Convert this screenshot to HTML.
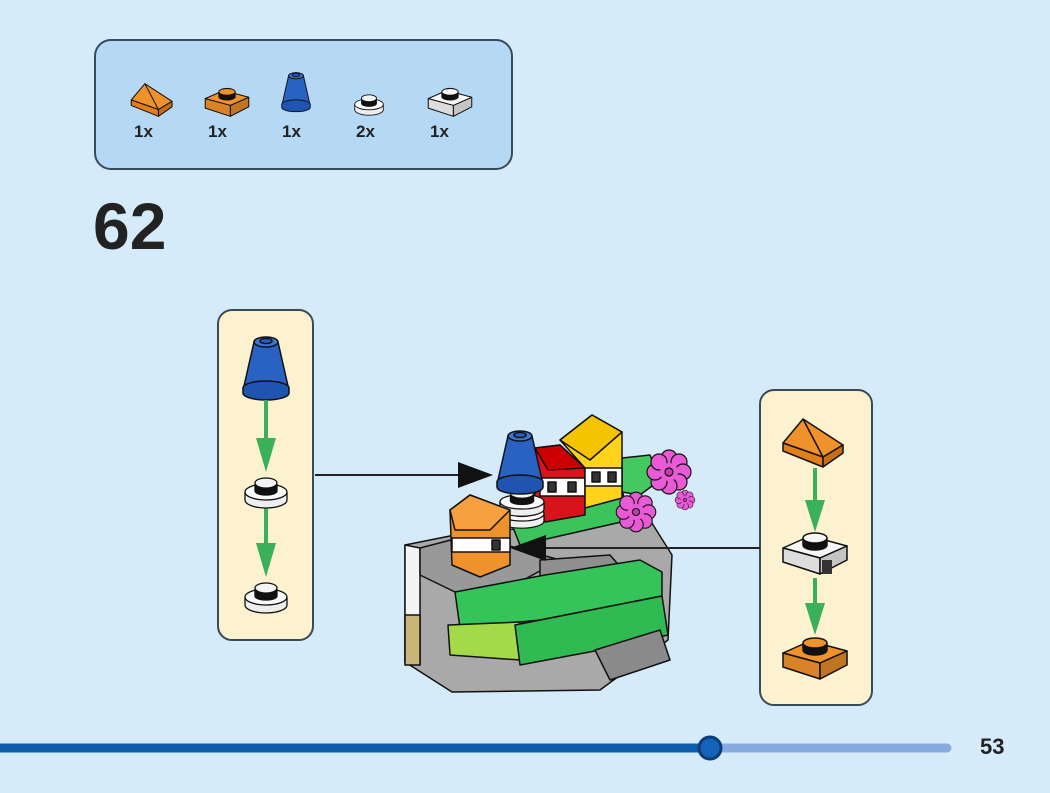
<!DOCTYPE html>
<html><head><meta charset="utf-8"><style>
html,body{margin:0;padding:0;background:#d5ebfa;}
svg{display:block}
text{font-family:"Liberation Sans",sans-serif;font-weight:bold;fill:#222}
</style></head><body>
<svg width="1050" height="793" viewBox="0 0 1050 793" xmlns="http://www.w3.org/2000/svg">
<defs>
 <g id="cone" stroke="#111" stroke-width="1.5">
  <path d="M-12,6 L12,6 L22,50 L-22,50 Z" fill="#2a62c4"/>
  <ellipse cx="0" cy="52" rx="23" ry="7" fill="#1f55b0"/>
  <path d="M-23,52 L-23,57 A23,7 0 0 0 23,57 L23,52" fill="#1f55b0"/>
  <ellipse cx="0" cy="6" rx="12" ry="5" fill="#3a74d4"/>
  <ellipse cx="0" cy="5" rx="6" ry="2.5" fill="#2a62c4"/>
 </g>
 <g id="ring" stroke="#111" stroke-width="1.3">
  <path d="M-21,2 L-21,10 A21,8 0 0 0 21,10 L21,2" fill="#eee"/>
  <ellipse cx="0" cy="2" rx="21" ry="8" fill="#fafafa"/>
  <path d="M-11,-6 L-11,1 A11,4 0 0 0 11,1 L11,-6" fill="#111"/>
  <ellipse cx="0" cy="-7" rx="11" ry="5" fill="#f4f4f4"/>
 </g>
 <g id="plate" stroke="#111" stroke-width="1.5" stroke-linejoin="round">
  <polygon points="-32,-2 -5,-14 32,-4 5,8"/>
  <polygon points="-32,-2 5,8 5,24 -32,12" style="filter:brightness(0.9)"/>
  <polygon points="5,8 32,-4 32,10 5,24" style="filter:brightness(0.8)"/>
  <path d="M-12,-12 L-12,-5 A12,5 0 0 0 12,-5 L12,-12" fill="#111"/>
  <ellipse cx="0" cy="-12" rx="12" ry="5"/>
 </g>
 <g id="slope" stroke="#111" stroke-width="1.5" stroke-linejoin="round" fill="#f0922c">
  <polygon points="-32,0 -12,-24 28,2 8,14"/>
  <polygon points="-32,0 8,14 8,24 -32,8" fill="#e07f1c"/>
  <polygon points="8,14 28,2 28,10 8,24" fill="#c96e14"/>
  <line x1="-12" y1="-24" x2="8" y2="14"/>
 </g>
 <g id="flower" fill="#e85ad6" stroke="#111" stroke-width="1.2">
  <circle cx="0" cy="-14" r="8"/><circle cx="10" cy="-10" r="8"/><circle cx="14" cy="0" r="8"/><circle cx="10" cy="10" r="8"/>
  <circle cx="0" cy="14" r="8"/><circle cx="-10" cy="10" r="8"/><circle cx="-14" cy="0" r="8"/><circle cx="-10" cy="-10" r="8"/>
  <circle cx="0" cy="0" r="9" stroke="none"/>
  <circle cx="0" cy="0" r="4" fill="#c03cb0"/>
 </g>
</defs>

<!-- parts box -->
<rect x="95" y="40" width="417" height="129" rx="16" fill="#b5d9f4" stroke="#394a59" stroke-width="2"/>
<g transform="translate(153,100) scale(0.68)"><use href="#slope"/></g>
<g transform="translate(227,100) scale(0.68)" fill="#f0922c"><use href="#plate"/></g>
<g transform="translate(296,72) scale(0.62)"><use href="#cone"/></g>
<g transform="translate(369,103) scale(0.68)"><use href="#ring"/></g>
<g transform="translate(450,100) scale(0.68)" fill="#f6f6f6"><use href="#plate"/></g>
<text x="134" y="137" font-size="17">1x</text>
<text x="208" y="137" font-size="17">1x</text>
<text x="282" y="137" font-size="17">1x</text>
<text x="356" y="137" font-size="17">2x</text>
<text x="430" y="137" font-size="17">1x</text>

<text x="93" y="249" font-size="66">62</text>

<!-- left callout -->
<rect x="218" y="310" width="95" height="330" rx="14" fill="#fdf2cf" stroke="#394a59" stroke-width="2"/>
<use href="#cone" transform="translate(266,336)"/>
<g fill="#3bb05a" stroke="none">
 <rect x="264" y="400" width="4" height="40"/><polygon points="256,438 276,438 266,472"/>
 <rect x="264" y="505" width="4" height="40"/><polygon points="256,543 276,543 266,577"/>
</g>
<use href="#ring" transform="translate(266,490)"/>
<use href="#ring" transform="translate(266,595)"/>

<!-- right callout -->
<rect x="760" y="390" width="112" height="315" rx="14" fill="#fdf2cf" stroke="#394a59" stroke-width="2"/>
<use href="#slope" transform="translate(815,443)"/>
<g fill="#3bb05a" stroke="none">
 <rect x="813" y="468" width="4" height="35"/><polygon points="805,500 825,500 815,532"/>
 <rect x="813" y="578" width="4" height="30"/><polygon points="805,603 825,603 815,635"/>
</g>
<g transform="translate(815,550)" fill="#f6f6f6"><use href="#plate"/></g>
<rect x="822" y="560" width="10" height="14" fill="#333"/>
<g transform="translate(815,655)" fill="#f0922c"><use href="#plate"/></g>

<!-- main model -->
<g stroke="#111" stroke-width="1.5" stroke-linejoin="round">
 <polygon points="405,545 470,532 650,520 672,555 668,640 600,690 452,692 405,662" fill="#a9a9a9"/>
 <polygon points="405,545 420,548 420,665 405,662" fill="#f4f4f4"/>
 <rect x="405" y="615" width="15" height="50" fill="#c9b57a"/>
 <polygon points="420,548 470,535 560,560 505,590 455,592 420,575" fill="#999"/>
 <polygon points="540,560 610,555 640,590 560,610 540,600" fill="#8f8f8f"/>
 <ellipse cx="572" cy="578" rx="12" ry="6" fill="#222"/>
 <polygon points="455,592 545,575 640,560 662,572 662,596 540,620 460,628" fill="#35c45a"/>
 <polygon points="448,625 520,622 520,660 450,655" fill="#a4d94a"/>
 <polygon points="515,625 662,596 668,635 600,650 520,665" fill="#2fbb52"/>
 <polygon points="595,650 660,630 670,660 610,680" fill="#8a8a8a"/>
 <polygon points="510,520 622,490 630,520 520,545" fill="#3cc45c"/>
 <polygon points="622,458 650,455 660,480 640,495 622,492" fill="#44c860"/>
 <!-- red -->
 <polygon points="535,448 560,445 585,468 585,515 545,522 535,505" fill="#d8141a"/>
 <polygon points="535,448 560,445 585,468 548,470" fill="#c00"/>
 <rect x="540" y="478" width="45" height="18" fill="#fff"/>
 <rect x="548" y="482" width="8" height="10" fill="#333"/><rect x="568" y="482" width="8" height="10" fill="#333"/>
 <!-- yellow -->
 <polygon points="560,440 592,415 622,432 622,498 585,508 585,468" fill="#ffd31a"/>
 <polygon points="560,440 592,415 622,432 590,460" fill="#f5c400"/>
 <rect x="585" y="468" width="37" height="18" fill="#fff"/>
 <rect x="592" y="472" width="8" height="10" fill="#333"/><rect x="608" y="472" width="8" height="10" fill="#333"/>
 <!-- rings + cone -->
 <g transform="translate(522,512) scale(1.05,0.9)"><use href="#ring"/></g>
 <g transform="translate(522,500) scale(1.05,0.9)"><use href="#ring"/></g>
 <use href="#cone" transform="translate(520,430)"/>
 <!-- orange house -->
 <polygon points="450,510 470,495 510,510 510,565 480,577 452,565" fill="#f0922c"/>
 <polygon points="450,510 470,495 510,510 490,530 455,530" fill="#f7a040"/>
 <rect x="452" y="538" width="58" height="14" fill="#fff"/>
 <rect x="492" y="540" width="8" height="10" fill="#333"/>
</g>
<use href="#flower" transform="translate(669,472)"/>
<use href="#flower" transform="translate(636,512) scale(0.9)"/>
<use href="#flower" transform="translate(685,500) scale(0.45)"/>
<!-- arrows -->
<line x1="315" y1="475" x2="465" y2="475" stroke="#222" stroke-width="2"/>
<polygon points="458,462 493,475 458,488" fill="#111"/>
<line x1="760" y1="548" x2="540" y2="548" stroke="#222" stroke-width="2"/>
<polygon points="546,535 510,548 546,561" fill="#111"/>

<!-- progress bar -->
<line x1="710" y1="748" x2="947" y2="748" stroke="#88abdf" stroke-width="9" stroke-linecap="round"/>
<line x1="0" y1="748" x2="710" y2="748" stroke="#0b5cab" stroke-width="9"/>
<circle cx="710" cy="748" r="11" fill="#1563b8" stroke="#0a3c78" stroke-width="3"/>
<text x="980" y="754" font-size="22">53</text>
</svg>
</body></html>
